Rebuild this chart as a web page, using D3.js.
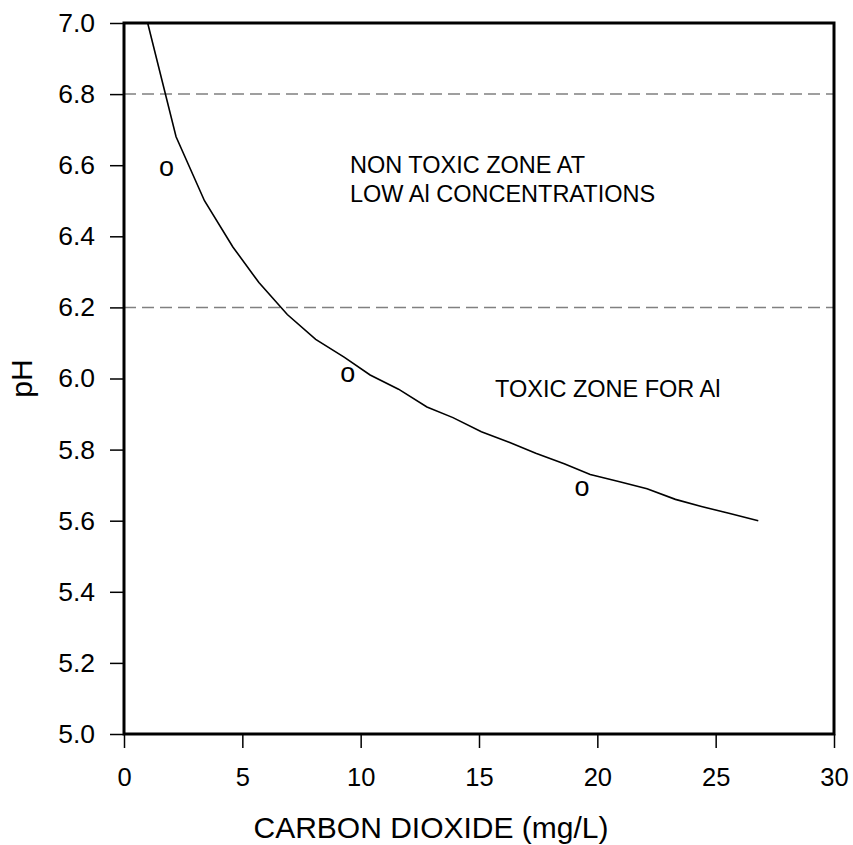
<!DOCTYPE html>
<html>
<head>
<meta charset="utf-8">
<script src="https://cdn.jsdelivr.net/npm/d3@7"></script>
<style>
  body { margin: 0; background: #fff; }
  text { font-family: "Liberation Sans", Arial, sans-serif; fill: #000; }
</style>
</head>
<body>
<svg id="chart" width="853" height="845"></svg>
<script>
// curve: pH vs CO2
const co2 = [1.0, 2.2, 3.4, 4.6, 5.7, 6.9, 8.1, 9.3, 10.4, 11.6, 12.8, 13.9, 15.1, 16.3, 17.4, 18.6, 19.7, 20.9, 22.1, 23.3, 24.4, 25.6, 26.8];
const ph = [7.0, 6.68, 6.50, 6.37, 6.27, 6.18, 6.11, 6.06, 6.01, 5.97, 5.92, 5.89, 5.85, 5.82, 5.79, 5.76, 5.73, 5.71, 5.69, 5.66, 5.64, 5.62, 5.60];

// observed points drawn as "o"
const obsCo2 = [1.8, 9.45, 19.35];
const obsPh = [6.59, 6.01, 5.69];

// zone boundaries
const limits = [6.8, 6.2];

const xTicks = [0, 5, 10, 15, 20, 25, 30];
const yTicks = [5.0, 5.2, 5.4, 5.6, 5.8, 6.0, 6.2, 6.4, 6.6, 6.8, 7.0];

const margin = { top: 23, right: 19, bottom: 111, left: 124 };
const width = 853 - margin.left - margin.right;
const height = 845 - margin.top - margin.bottom;

const svg = d3.select("#chart")
  .append("g")
  .attr("transform", `translate(${margin.left},${margin.top})`);

const x = d3.scaleLinear().domain([0, 30]).range([0, width]);
const y = d3.scaleLinear().domain([5, 7]).range([height, 0]);

// axes
const xAxis = svg.append("g")
  .attr("transform", `translate(0,${height})`)
  .call(d3.axisBottom(x).tickValues(xTicks).tickSize(14).tickSizeOuter(0).tickPadding(20));
xAxis.select(".domain").remove();
xAxis.selectAll("line").attr("stroke", "#000").attr("stroke-width", 1.5);
xAxis.selectAll("text").style("font-size", "25.5px");

const yAxis = svg.append("g")
  .call(d3.axisLeft(y).tickValues(yTicks).tickFormat(d3.format(".1f")).tickSize(14).tickSizeOuter(0).tickPadding(15));
yAxis.select(".domain").remove();
yAxis.selectAll("line").attr("stroke", "#000").attr("stroke-width", 1.5);
yAxis.selectAll("text").style("font-size", "26.5px");

// dashed limit lines
svg.selectAll(".limit")
  .data(limits)
  .enter()
  .append("line")
  .attr("class", "limit")
  .attr("x1", 0)
  .attr("x2", width)
  .attr("y1", d => y(d))
  .attr("y2", d => y(d))
  .attr("stroke", "#808080")
  .attr("stroke-width", 1.5)
  .attr("stroke-dasharray", "12,6");

// curve
const line = d3.line()
  .x((d, i) => x(co2[i]))
  .y(d => y(d));

svg.append("path")
  .datum(ph)
  .attr("fill", "none")
  .attr("stroke", "#000")
  .attr("stroke-width", 1.6)
  .attr("d", line);

// observed points
svg.selectAll(".obs")
  .data(obsCo2)
  .enter()
  .append("text")
  .attr("class", "obs")
  .attr("x", d => x(d))
  .attr("y", (d, i) => y(obsPh[i]) + 7)
  .attr("text-anchor", "middle")
  .style("font-size", "27px")
  .text("o");

// frame
svg.append("rect")
  .attr("width", width)
  .attr("height", height)
  .attr("fill", "none")
  .attr("stroke", "#000")
  .attr("stroke-width", 3);

// zone labels
svg.append("text")
  .attr("x", 350 - margin.left)
  .attr("y", 173 - margin.top)
  .style("font-size", "23.5px")
  .text("NON TOXIC ZONE AT");
svg.append("text")
  .attr("x", 350 - margin.left)
  .attr("y", 202 - margin.top)
  .style("font-size", "23.5px")
  .text("LOW Al CONCENTRATIONS");
svg.append("text")
  .attr("x", 495 - margin.left)
  .attr("y", 397 - margin.top)
  .style("font-size", "23.5px")
  .text("TOXIC ZONE FOR Al");

// axis titles
svg.append("text")
  .attr("x", 431 - margin.left)
  .attr("y", height + 104)
  .attr("text-anchor", "middle")
  .style("font-size", "30px")
  .text("CARBON DIOXIDE (mg/L)");

svg.append("text")
  .attr("transform", "rotate(-90)")
  .attr("x", -height / 2)
  .attr("y", 32 - margin.left)
  .attr("text-anchor", "middle")
  .style("font-size", "30px")
  .text("pH");
</script>
</body>
</html>
